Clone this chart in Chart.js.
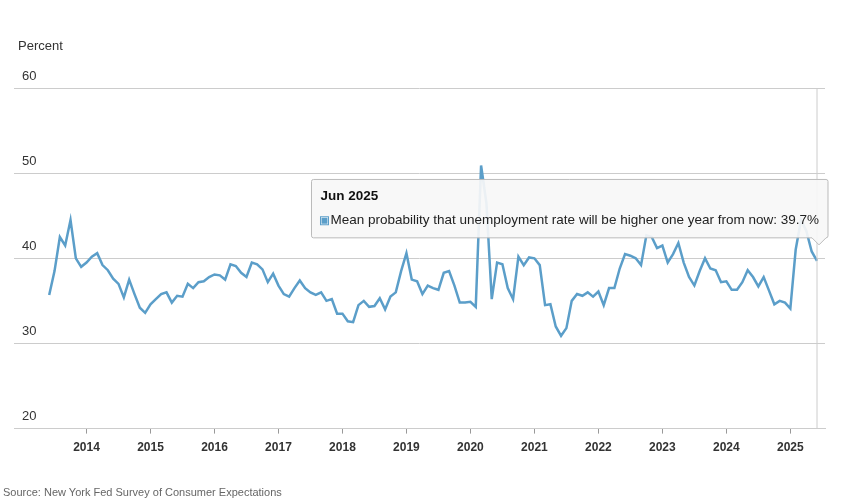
<!DOCTYPE html>
<html><head><meta charset="utf-8">
<script src="https://cdn.jsdelivr.net/npm/chart.js@4"></script>
<style>html,body{margin:0;padding:0;background:#fff;}#w{position:relative;width:848px;height:502px;}
#t{position:absolute;left:18px;top:38px;font:13px "Liberation Sans",Arial;color:#333}
#s{position:absolute;left:3px;top:486px;font:11px "Liberation Sans",Arial;color:#666}</style>
</head><body><div id="w"><canvas id="c" width="848" height="502"></canvas>
<div id="t">Percent</div><div id="s">Source: New York Fed Survey of Consumer Expectations</div></div>
<script>
const startYear = 2013, startMonth = 6;
const yearLabels = ["2014","2015","2016","2017","2018","2019","2020","2021","2022","2023","2024","2025"];
const yTicks = [20,30,40,50,60];
const seriesName = "Mean probability that unemployment rate will be higher one year from now";
const values = [
 35.7,38.5,42.5,41.5,44.5,40,39,
 39.5,40.2,40.6,39.2,38.6,37.6,37,35.4,37.5,35.8,34.2,33.6,
 34.6,35.2,35.8,36,34.8,35.6,35.5,37,36.5,37.2,37.3,37.8,
 38.1,38,37.5,39.3,39.1,38.3,37.8,39.5,39.3,38.7,37.2,38.2,
 36.8,35.8,35.5,36.5,37.4,36.5,36,35.7,36,35,35.2,33.5,
 33.5,32.6,32.5,34.5,35,34.3,34.4,35.3,34,35.5,36,38.5,
 40.6,37.5,37.3,35.8,36.8,36.5,36.3,38.3,38.5,36.8,34.8,34.8,
 34.9,34.3,50.9,46.5,35.2,39.5,39.3,36.5,35.2,40.2,39.2,40.1,
 40,39.2,34.5,34.6,32,30.9,31.8,35,35.8,35.6,36,35.5,
 36.1,34.5,36.5,36.5,38.8,40.5,40.3,40,39.2,42.7,42.5,41.2,
 41.5,39.5,40.5,41.8,39.5,37.8,36.8,38.5,40,38.8,38.6,37.2,
 37.3,36.3,36.3,37.2,38.6,37.8,36.7,37.8,36.2,34.6,35,34.8,
 34.1,41,44.5,43.2,40.8,39.7
];
const mon=["Jan","Feb","Mar","Apr","May","Jun","Jul","Aug","Sep","Oct","Nov","Dec"];
function lab(i){const m=startMonth-1+i;return mon[m%12]+" "+(startYear+Math.floor(m/12));}
const pts = values.map((v,i)=>({x:i,y:v}));
const jan0 = 13-startMonth;
Chart.Tooltip.positioners.fixedPos = function(els){ if(!els.length) return false; return {x:els[0].element.x+2, y:els[0].element.y-14}; };
const vline = {id:'vline',afterDatasetsDraw(ch){const a=ch.tooltip.getActiveElements();if(!a.length)return;const x=a[0].element.x,c=ch.ctx;c.save();c.strokeStyle='#ccc';c.lineWidth=1;c.beginPath();c.moveTo(x,ch.chartArea.top);c.lineTo(x,ch.chartArea.bottom);c.stroke();c.restore();}};
const ch = new Chart(document.getElementById('c'),{
 type:'line',
 data:{datasets:[{label:seriesName,data:pts,borderColor:'#5b9ec9',backgroundColor:'#5b9ec9',borderWidth:2.5,pointRadius:0,pointHoverRadius:0,tension:0}]},
 options:{responsive:false,animation:false,events:[],
  layout:{padding:{top:88,right:23,left:14,bottom:40}},
  plugins:{legend:{display:false},
   tooltip:{position:'fixedPos',xAlign:'right',yAlign:'bottom',backgroundColor:'rgba(247,247,247,0.92)',borderColor:'#bbb',borderWidth:1,cornerRadius:2,
    titleColor:'#111',bodyColor:'#222',titleFont:{family:'Liberation Sans',size:13.5,weight:'bold'},bodyFont:{family:'Liberation Sans',size:13.5},
    padding:9,caretSize:7,displayColors:true,boxWidth:8,boxHeight:8,bodySpacing:4,titleMarginBottom:8,
    callbacks:{title:(it)=>lab(it[0].parsed.x),label:(it)=>it.dataset.label+": "+it.parsed.y.toFixed(1)+"%",
     labelColor:()=>({borderColor:'#5b9ec9',backgroundColor:'#5b9ec9'})}}},
  scales:{
   x:{type:'linear',min:-6.6,max:145.5,
    afterBuildTicks(a){a.ticks=yearLabels.map((y,i)=>({value:jan0+12*i}));},
    ticks:{autoSkip:false,maxRotation:0,color:'#333',font:{family:'Liberation Sans',size:12,weight:'bold'},padding:7,callback:(v,i)=>yearLabels[i]},
    grid:{display:true,drawOnChartArea:false,drawTicks:true,tickLength:5,color:'#999'},border:{display:true,color:'#ccc'}},
   y:{min:20,max:60,afterBuildTicks(a){a.ticks=yTicks.map(v=>({value:v}));},afterFit(s){s.width=0;},
    ticks:{mirror:true,labelOffset:-12,padding:8,color:'#333',font:{family:'Liberation Sans',size:13}},
    grid:{color:'#ccc',drawTicks:false},border:{display:false}}
  }},
 plugins:[vline]
});
ch.tooltip.setActiveElements([{datasetIndex:0,index:values.length-1}],{x:0,y:0});
ch.update();
</script></body></html>
